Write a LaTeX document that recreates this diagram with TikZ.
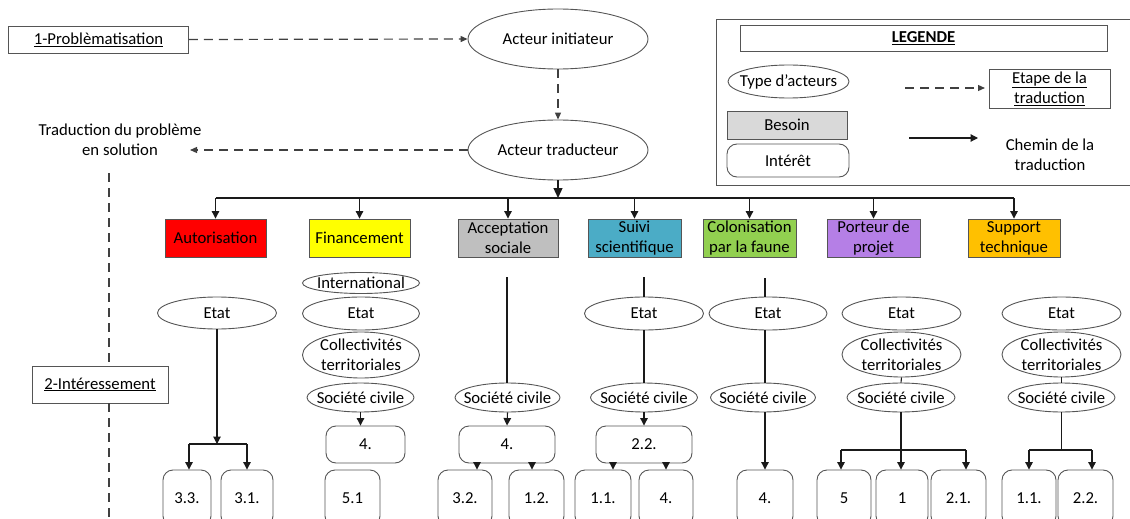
\documentclass[tikz,border=0pt]{standalone}
\usepackage{fontspec}
\setmainfont{Carlito}
\usetikzlibrary{shapes.geometric,arrows.meta}
\definecolor{cred}{HTML}{FF0000}
\definecolor{cyel}{HTML}{FFFF00}
\definecolor{cgray}{HTML}{BFBFBF}
\definecolor{cblue}{HTML}{4BACC6}
\definecolor{cgreen}{HTML}{92D050}
\definecolor{cpurp}{HTML}{B57FE6}
\definecolor{corange}{HTML}{FFC000}
\definecolor{clight}{HTML}{D9D9D9}
\definecolor{edgecol}{HTML}{555555}
\definecolor{lncol}{HTML}{1A1A1A}
\begin{document}
\begin{tikzpicture}[x=1pt,y=-1pt,
  every node/.style={font=\fontsize{16.7}{20}\selectfont, text=black},
  ell/.style={ellipse, draw=edgecol, line width=0.9pt, inner xsep=-25pt, inner ysep=-14pt, align=center},
  box/.style={rectangle, draw=edgecol, line width=0.9pt, inner sep=0pt, align=center},
  rbox/.style={box, rounded corners=10pt},
  arr/.style={draw=lncol, line width=1.1pt, -{Triangle[length=7.5pt,width=7.5pt]}},
  plain/.style={draw=lncol, line width=1.1pt},
  dsh/.style={draw=black!75, line width=1.2pt, dash pattern=on 9pt off 6pt},
  darr/.style={dsh, -{Triangle[length=7pt,width=6pt]}}
]
\useasboundingbox (0,0) rectangle (1130,519);
\clip (0,0) rectangle (1130,519);

% ---------- top part ----------
\node[box, minimum width=180, minimum height=27] (prob) at (98.5,39.5) {\underline{1-Problèmatisation}};
\node[ell, minimum width=180, minimum height=60] (ai) at (558,39) {Acteur initiateur};
\node[ell, minimum width=180, minimum height=60] (at) at (558,150) {Acteur traducteur};
\node[align=center, inner sep=0pt] (trad) at (120,140) {Traduction du problème\\en solution};
\coordinate (tradend) at (190,150);
\draw[darr] (prob.east) -- (ai.west);
\draw[darr] (ai.south) -- (at.north);
\draw[darr] (at.west) -- (tradend);

\coordinate (vtop) at (109,173);
\coordinate (vbot) at (109,530);
\node[box, minimum width=136, minimum height=37] (int) at (100,384.5) {\underline{2-Intéressement}};
\draw[dsh] (vtop) -- (vtop |- int.north);
\draw[dsh] (vtop |- int.south) -- (vbot);

% ---------- needs ----------
\coordinate (tj) at (558,198);
\draw[draw=lncol, line width=1.3pt, -{Triangle[length=10pt,width=9pt]}] (at.south) -- (tj);
\node[box, fill=cred, minimum width=101, minimum height=38] (aut) at (215.5,238) {Autorisation};
\node[box, fill=cyel, minimum width=101, minimum height=38] (fin) at (359.5,238) {Financement};
\node[box, fill=cgray, minimum width=100, minimum height=38] (acc) at (508,238) {Acceptation\\sociale};
\node[box, fill=cblue, minimum width=93, minimum height=38] (sui) at (634.5,238) {Suivi\\scientifique};
\node[box, fill=cgreen, minimum width=93, minimum height=38] (col) at (749.5,238) {Colonisation\\par la faune};
\node[box, fill=cpurp, minimum width=93, minimum height=38] (por) at (873.5,238) {Porteur de\\projet};
\node[box, fill=corange, minimum width=92, minimum height=38] (sup) at (1014,238) {Support\\technique};
\draw[plain, line width=1.3pt] (aut.north |- tj) -- (sup.north |- tj);
\foreach \n in {aut,fin,acc,sui,col,por,sup}{
  \draw[arr] (\n.north |- tj) -- (\n.north);
}

% ---------- column 1 ----------
\node[ell, minimum width=119, minimum height=32] (e1) at (217,313) {Etat};
\coordinate (j1) at (217,444);
\coordinate (j1l) at (189,444);
\coordinate (j1r) at (247,444);
\node[rbox, minimum width=48, minimum height=56] (b11) at (187,498) {3.3.};
\node[rbox, minimum width=52, minimum height=56] (b12) at (247,498) {3.1.};
\draw[arr] (e1.south) -- (j1);
\draw[plain] (j1l) -- (j1r);
\draw[arr] (j1l) -- (j1l |- b11.north);
\draw[arr] (j1r) -- (b12.north);

% ---------- column 2 ----------
\node[ell, minimum width=117, minimum height=21] (c2a) at (361,283) {International};
\node[ell, minimum width=117, minimum height=33] (c2b) at (361,313.5) {Etat};
\node[ell, minimum width=117, minimum height=46] (c2c) at (361,355) {Collectivités\\territoriales};
\node[ell, minimum width=107, minimum height=29] (c2d) at (360.5,397.5) {Société civile};
\node[rbox, minimum width=79, minimum height=37] (b2) at (365.5,444.5) {4.};
\node[rbox, minimum width=55, minimum height=56] (b21) at (352.5,498) {5.1};
\draw[arr] (c2d.south) -- (c2d.south |- b2.north);

% ---------- column 3 ----------
\coordinate (t3) at (507,277);
\node[ell, minimum width=105, minimum height=29] (c3) at (507.5,397.5) {Société civile};
\node[rbox, minimum width=96, minimum height=37] (b3) at (507,444.5) {4.};
\node[rbox, minimum width=54, minimum height=56] (b31) at (465,498) {3.2.};
\node[rbox, minimum width=55, minimum height=56] (b32) at (536.5,498) {1.2.};
\draw[plain] (t3) -- (t3 |- c3.north);
\draw[arr] (c3.south) -- (b3.north);
\draw[arr] ([xshift=-30pt]b3.south) -- ([xshift=-30pt]b3.south |- b31.north);
\draw[arr] ([xshift=25pt]b3.south) -- ([xshift=25pt]b3.south |- b32.north);

% ---------- column 4 ----------
\coordinate (t4) at (644,277);
\node[ell, minimum width=119, minimum height=33] (c4a) at (644,313.5) {Etat};
\node[ell, minimum width=107, minimum height=29] (c4b) at (644,397.5) {Société civile};
\node[rbox, minimum width=96, minimum height=37] (b4) at (644,444.5) {2.2.};
\node[rbox, minimum width=56, minimum height=56] (b41) at (603,498) {1.1.};
\node[rbox, minimum width=54, minimum height=56] (b42) at (666,498) {4.};
\draw[plain] (t4) -- (c4a.north);
\draw[plain] (c4a.south) -- (c4b.north);
\draw[arr] (c4b.south) -- (b4.north);
\draw[arr] ([xshift=-31pt]b4.south) -- ([xshift=-31pt]b4.south |- b41.north);
\draw[arr] ([xshift=22pt]b4.south) -- ([xshift=22pt]b4.south |- b42.north);

% ---------- column 5 ----------
\coordinate (t5) at (765,278);
\node[ell, minimum width=118, minimum height=33] (c5a) at (768,313.5) {Etat};
\node[ell, minimum width=105, minimum height=29] (c5b) at (763,397.5) {Société civile};
\node[rbox, minimum width=56, minimum height=56] (b5) at (765,498) {4.};
\draw[plain] (t5) -- (t5 |- c5a.north);
\draw[plain] (t5 |- c5a.south) -- (t5 |- c5b.north);
\draw[arr] (t5 |- c5b.south) -- (b5.north);

% ---------- column 6 ----------
\node[ell, minimum width=119, minimum height=33] (c6a) at (901.5,313.5) {Etat};
\node[ell, minimum width=119, minimum height=45] (c6b) at (901.5,354.5) {Collectivités\\territoriales};
\node[ell, minimum width=108, minimum height=29] (c6c) at (901,397.5) {Société civile};
\node[rbox, minimum width=54, minimum height=56] (b61) at (844,498) {5};
\node[rbox, minimum width=52, minimum height=56] (b62) at (902,498) {1};
\node[rbox, minimum width=55, minimum height=56] (b63) at (958.5,498) {2.1.};
\coordinate (j6l) at (841,450);
\coordinate (j6r) at (966,450);
\draw[plain] (c6b.south) -- (c6c.north);
\draw[arr] (c6c.south) -- (c6c.south |- b62.north);
\draw[plain] (j6l) -- (j6r);
\draw[arr] (j6l) -- (j6l |- b61.north);
\draw[arr] (j6r) -- (j6r |- b63.north);

% ---------- column 7 ----------
\node[ell, minimum width=119, minimum height=33] (c7a) at (1061.5,313.5) {Etat};
\node[ell, minimum width=119, minimum height=45] (c7b) at (1061.5,354.5) {Collectivités\\territoriales};
\node[ell, minimum width=107, minimum height=29] (c7c) at (1061.5,397.5) {Société civile};
\node[rbox, minimum width=54, minimum height=56] (b71) at (1029,498) {1.1.};
\node[rbox, minimum width=55, minimum height=56] (b72) at (1085.5,498) {2.2.};
\coordinate (j7l) at (1029,450);
\coordinate (j7r) at (1092,450);
\draw[plain] (c7b.south) -- (c7c.north);
\draw[plain] (c7c.south) -- (c7c.south |- j7l);
\draw[plain] (j7l) -- (j7r);
\draw[arr] (j7l) -- (b71.north);
\draw[arr] (j7r) -- (j7r |- b72.north);

% ---------- legend ----------
\node[box, minimum width=424, minimum height=166] (leg) at (928,102) {};
\node[box, minimum width=367, minimum height=26] (legt) at (923.5,38) {\textbf{\underline{LEGENDE}}};
\node[ell, minimum width=121, minimum height=33] (lt) at (788.5,81.5) {Type d’acteurs};
\node[box, fill=clight, minimum width=120, minimum height=28] (lb) at (787,125) {Besoin};
\node[rbox, minimum width=122, minimum height=33] (li) at (788,160.5) {Intérêt};
\node[box, minimum width=121, minimum height=39] (le) at (1049.5,88.5) {\underline{Etape de la}\\\underline{traduction}};
\node[align=center, inner sep=0pt] (lc) at (1050,155) {Chemin de la\\traduction};
\coordinate (ld1) at (905,88);
\coordinate (ld2) at (985,88);
\coordinate (ls1) at (909,138);
\coordinate (ls2) at (978,138);
\draw[darr] (ld1) -- (ld2);
\draw[arr] (ls1) -- (ls2);
\end{tikzpicture}
\end{document}
